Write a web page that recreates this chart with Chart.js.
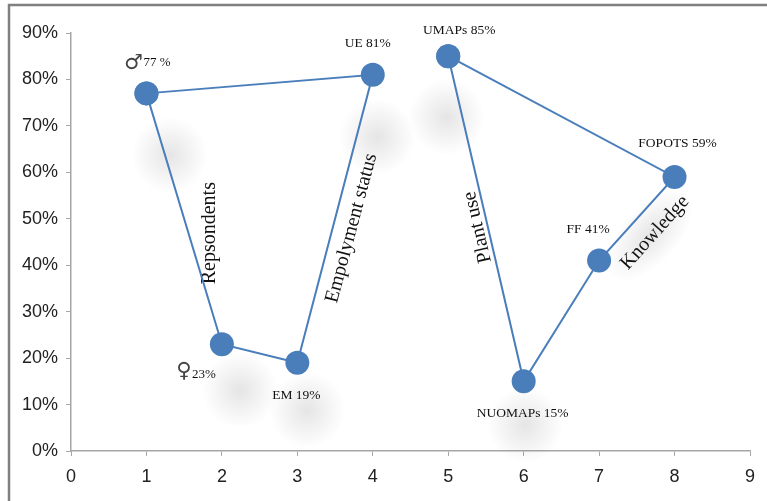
<!DOCTYPE html>
<html>
<head>
<meta charset="utf-8">
<script src="https://cdn.jsdelivr.net/npm/chart.js@4.4.1/dist/chart.umd.min.js"></script>
<style>
  html, body { margin: 0; padding: 0; background: #ffffff; }
  #wrap { width: 767px; height: 501px; }
</style>
</head>
<body>
<div id="wrap"><canvas id="c" width="767" height="501"></canvas></div>
<script>
// Group 1: respondents and employment status
const groupAX = [1, 4, 3, 2];
const groupAY = [77, 81, 19, 23];
const groupAPrefix = ['', 'UE ', 'EM ', ''];
const groupASymbol = ['♂', '', '', '♀'];

// Group 2: plant use and knowledge
const groupBX = [5, 8, 7, 6];
const groupBY = [85, 59, 41, 15];
const groupBPrefix = ['UMAPs ', 'FOPOTS ', 'FF ', 'NUOMAPs '];

// Axis ticks
const xTicks = [0, 1, 2, 3, 4, 5, 6, 7, 8, 9];
const yTicks = [0, 10, 20, 30, 40, 50, 60, 70, 80, 90];

// Rotated group captions (data-space anchor, angle in degrees)
const captionText = ['Repsondents', 'Empolyment status', 'Plant use', 'Knowledge'];
const captionX = [1.84, 3.72, 5.39, 7.74];
const captionY = [46.9, 48.0, 48.2, 47.0];
const captionAngle = [-90, -75, -103, -48];

// Soft shadow spots behind the captions (data-space centres)
const hazeX = [1.31, 2.24, 3.13, 4.06, 4.98, 6.02, 7.67];
const hazeY = [63.7, 13.1, 8.8, 67.6, 71.9, 5.6, 46.5];

const BLUE = '#4a7ebb';

function closedPath(xs, ys) {
  const pts = xs.map((x, i) => ({ x: x, y: ys[i] }));
  pts.push({ x: xs[0], y: ys[0] });
  return pts;
}

// Per-point label drawing offsets (pixels from the marker centre)
const labelOffsetA = [[0, 0], [-5, -31], [-1, 33], [0, 0]];
const labelOffsetB = [[11, -26], [3, -34], [-11, -31], [-1, 32]];

const decorPlugin = {
  id: 'decor',
  beforeDatasetsDraw(chart) {
    const ctx = chart.ctx;
    const xs = chart.scales.x, ys = chart.scales.y;
    ctx.save();
    hazeX.forEach((hx, i) => {
      const px = xs.getPixelForValue(hx), py = ys.getPixelForValue(hazeY[i]);
      ctx.save();
      ctx.translate(px, py);
      if (i === 6) { ctx.rotate(-48 * Math.PI / 180); ctx.scale(1.5, 0.75); }
      const g = ctx.createRadialGradient(0, 0, 0, 0, 0, 38);
      g.addColorStop(0, 'rgba(0,0,0,0.10)');
      g.addColorStop(0.5, 'rgba(0,0,0,0.05)');
      g.addColorStop(1, 'rgba(0,0,0,0)');
      ctx.fillStyle = g;
      ctx.beginPath();
      ctx.arc(0, 0, 38, 0, Math.PI * 2);
      ctx.fill();
      ctx.restore();
    });
    // captions
    ctx.fillStyle = '#111';
    ctx.font = '20px "Liberation Serif", "Times New Roman", serif';
    ctx.textAlign = 'center';
    ctx.textBaseline = 'middle';
    captionText.forEach((t, i) => {
      const px = xs.getPixelForValue(captionX[i]), py = ys.getPixelForValue(captionY[i]);
      ctx.save();
      ctx.translate(px, py);
      ctx.rotate(captionAngle[i] * Math.PI / 180);
      ctx.fillText(t, 0, 0);
      ctx.restore();
    });
    ctx.restore();
  },
  afterDraw(chart) {
    const ctx = chart.ctx;
    const xs = chart.scales.x, ys = chart.scales.y;
    ctx.save();
    // outer frame
    ctx.strokeStyle = '#808080';
    ctx.lineWidth = 2.5;
    ctx.beginPath();
    ctx.moveTo(9, 505);
    ctx.lineTo(9, 5);
    ctx.lineTo(772, 5);
    ctx.stroke();

    ctx.fillStyle = '#111';
    ctx.textBaseline = 'middle';
    const serif = '"Liberation Serif", "Times New Roman", serif';
    const symbolFont = '21px "DejaVu Sans", sans-serif';
    // group 1 labels
    groupAX.forEach((x, i) => {
      const px = xs.getPixelForValue(x), py = ys.getPixelForValue(groupAY[i]);
      if (groupASymbol[i] === '♂') {
        ctx.font = symbolFont;
        ctx.textAlign = 'center';
        ctx.fillStyle = '#444';
        ctx.fillText('♂', px - 13, py - 30);
        ctx.fillStyle = '#111';
        ctx.font = '13px ' + serif;
        ctx.textAlign = 'left';
        ctx.fillText(groupAY[i] + ' %', px - 3, py - 31);
      } else if (groupASymbol[i] === '♀') {
        ctx.font = symbolFont;
        ctx.textAlign = 'center';
        ctx.fillStyle = '#444';
        ctx.fillText('♀', px - 38, py + 27);
        ctx.fillStyle = '#111';
        ctx.font = '13px ' + serif;
        ctx.textAlign = 'left';
        ctx.fillText(groupAY[i] + '%', px - 30, py + 30);
      } else {
        ctx.font = '13.5px ' + serif;
        ctx.textAlign = 'center';
        const o = labelOffsetA[i];
        ctx.fillText(groupAPrefix[i] + groupAY[i] + '%', px + o[0], py + o[1]);
      }
    });
    // group 2 labels
    ctx.font = '13.5px ' + serif;
    ctx.textAlign = 'center';
    groupBX.forEach((x, i) => {
      const px = xs.getPixelForValue(x), py = ys.getPixelForValue(groupBY[i]);
      const o = labelOffsetB[i];
      ctx.fillText(groupBPrefix[i] + groupBY[i] + '%', px + o[0], py + o[1]);
    });
    ctx.restore();
  }
};

const tickFont = { family: '"Liberation Sans Narrow", "Liberation Sans", sans-serif', size: 18 };

new Chart(document.getElementById('c'), {
  type: 'scatter',
  data: {
    datasets: [
      { data: closedPath(groupAX, groupAY) },
      { data: closedPath(groupBX, groupBY) }
    ]
  },
  options: {
    responsive: false,
    animation: false,
    devicePixelRatio: 1,
    layout: { padding: { left: 9, right: 17, top: 33, bottom: 0 } },
    elements: {
      point: { radius: 12, hoverRadius: 12, backgroundColor: BLUE, borderColor: BLUE, borderWidth: 0 },
      line: { borderColor: BLUE, borderWidth: 2, tension: 0 }
    },
    datasets: { scatter: { showLine: true, clip: false, borderColor: BLUE, backgroundColor: BLUE, pointBackgroundColor: BLUE } },
    plugins: { legend: { display: false }, tooltip: { enabled: false } },
    scales: {
      x: {
        type: 'linear', min: xTicks[0], max: xTicks[xTicks.length - 1],
        afterBuildTicks: s => { s.ticks = xTicks.map(v => ({ value: v })); },
        afterFit: s => { s.height = 50; },
        grid: { drawOnChartArea: false, drawTicks: true, tickLength: 5, color: '#a6a6a6' },
        border: { color: '#a6a6a6', width: 1.5 },
        ticks: { color: '#222', font: tickFont, padding: 10, maxRotation: 0 }
      },
      y: {
        type: 'linear', min: yTicks[0], max: yTicks[yTicks.length - 1],
        afterBuildTicks: s => { s.ticks = yTicks.map(v => ({ value: v })); },
        afterFit: s => { s.width = 62; },
        grid: { drawOnChartArea: false, drawTicks: true, tickLength: 5, color: '#a6a6a6' },
        border: { color: '#a6a6a6', width: 1.5 },
        ticks: { color: '#222', font: tickFont, padding: 8, callback: v => v + '%' }
      }
    }
  },
  plugins: [decorPlugin]
});
</script>
</body>
</html>
